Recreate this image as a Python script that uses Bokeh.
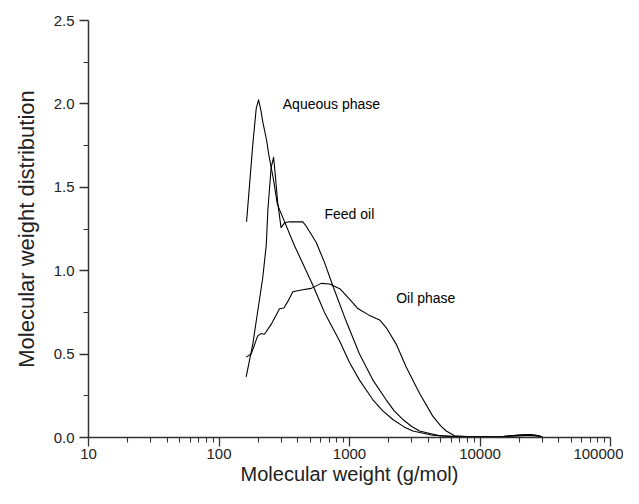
from bokeh.plotting import figure
from bokeh.models import FixedTicker, NumeralTickFormatter, PrintfTickFormatter
from bokeh.core.properties import value
from bokeh.embed import file_html
from bokeh.resources import INLINE

# Aqueous phase
aq_mw = [162.6, 171, 181.6, 193, 201, 210, 216, 232, 240, 262, 279, 291, 379, 523, 589, 643,
         838, 1000, 1193, 1511, 1800, 2148, 2600, 3055, 4345, 6000, 10000, 15000, 20000, 24000,
         28000, 30000]
aq_y = [1.293, 1.504, 1.759, 1.975, 2.024, 1.956, 1.897, 1.779, 1.70, 1.543, 1.405, 1.366, 1.15,
        0.914, 0.82, 0.75, 0.58, 0.45, 0.344, 0.226, 0.16, 0.108, 0.065, 0.039, 0.014, 0.006,
        0.004, 0.005, 0.010, 0.013, 0.008, 0.004]

# Feed oil
fo_mw = [161.5, 171, 181.6, 198, 216, 230, 237, 251, 262, 271, 282, 299, 318, 347, 439, 465,
         556, 643, 745, 942, 1193, 1511, 1910, 2200, 2560, 3000, 3438, 4900, 7000, 10000, 15000,
         20000, 24000, 28000, 30000]
fo_y = [0.364, 0.46, 0.560, 0.757, 0.953, 1.150, 1.366, 1.62, 1.68, 1.56, 1.405, 1.258, 1.287,
        1.293, 1.293, 1.268, 1.169, 1.05, 0.91, 0.698, 0.501, 0.344, 0.226, 0.16, 0.108, 0.066,
        0.039, 0.01, 0.005, 0.004, 0.006, 0.014, 0.017, 0.010, 0.005]

# Oil phase
op_mw = [161.5, 176.6, 198, 210, 223, 251, 291, 314, 337, 368, 427, 509, 607, 703, 850, 1000,
         1150, 1400, 1700, 1910, 2279, 2719, 3438, 4345, 5000, 5508, 6383, 8000, 10000, 15000,
         20000, 24000, 28000, 30000]
op_y = [0.482, 0.501, 0.609, 0.623, 0.619, 0.678, 0.772, 0.776, 0.816, 0.874, 0.884, 0.894,
        0.924, 0.92, 0.89, 0.83, 0.775, 0.735, 0.705, 0.659, 0.560, 0.423, 0.265, 0.128, 0.07,
        0.039, 0.01, 0.005, 0.004, 0.006, 0.015, 0.018, 0.011, 0.005]

label_text = ["Aqueous phase", "Feed oil", "Oil phase"]
label_mw = [308, 643, 2280]
label_y = [2.0, 1.337, 0.839]

x_major = [10, 100, 1000, 10000, 100000]
y_major = [0.0, 0.5, 1.0, 1.5, 2.0, 2.5]

p = figure(width=623, height=488, x_axis_type="log", x_range=(10, 100000), y_range=(0, 2.5),
           output_backend="svg", toolbar_location=None,
           min_border_left=88, min_border_right=13, min_border_top=20, min_border_bottom=51)
p.outline_line_color = None
p.xgrid.visible = False
p.ygrid.visible = False
p.background_fill_color = "white"
p.border_fill_color = "white"

for mw, y in [(aq_mw, aq_y), (fo_mw, fo_y), (op_mw, op_y)]:
    p.line(mw, y, line_color="black", line_width=1.1, line_join="round")

p.text(x=label_mw, y=label_y, text=label_text, text_font=value("Liberation Sans"),
       text_font_size="14px", text_color="black", text_align="left", text_baseline="middle")

x_minor = [m * d for d in [10, 100, 1000, 10000] for m in range(2, 10)]
p.xaxis.ticker = FixedTicker(ticks=x_major, minor_ticks=x_minor)
p.xaxis.formatter = NumeralTickFormatter(format="0")
y_minor = [0.25, 0.75, 1.25, 1.75, 2.25]
p.yaxis.ticker = FixedTicker(ticks=y_major, minor_ticks=y_minor)
p.yaxis.formatter = PrintfTickFormatter(format="%.1f")

for ax in (p.xaxis[0], p.yaxis[0]):
    ax.axis_line_color = "#333333"
    ax.axis_line_width = 1.5
    ax.major_tick_line_color = "#333333"
    ax.minor_tick_line_color = "#333333"
    ax.major_tick_line_width = 1.3
    ax.minor_tick_line_width = 1.1
    ax.major_tick_in = 0
    ax.major_tick_out = 9
    ax.minor_tick_in = 0
    ax.minor_tick_out = 5
    ax.major_label_text_font = "Liberation Sans"
    ax.major_label_text_font_size = "15px"
    ax.major_label_text_color = "#222222"
    ax.axis_label_text_font = "Liberation Sans"
    ax.axis_label_text_font_style = "normal"
    ax.axis_label_text_color = "#222222"

p.xaxis.axis_label = "Molecular weight (g/mol)"
p.yaxis.axis_label = "Molecular weight distribution"
p.xaxis.axis_label_text_font_size = "20px"
p.yaxis.axis_label_text_font_size = "22px"
p.xaxis.major_label_standoff = 2
p.xaxis.axis_label_standoff = 1
p.yaxis.major_label_standoff = 5
p.yaxis.axis_label_standoff = 12

open("out.html", "w").write(file_html(p, INLINE))
